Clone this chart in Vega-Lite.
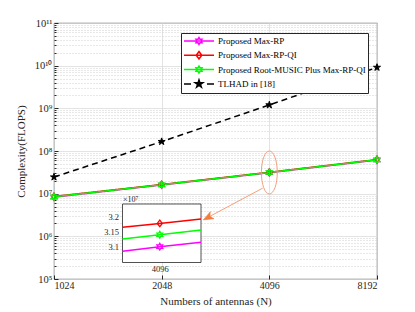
{
  "$schema": "https://vega.github.io/schema/vega-lite/v6.json",
  "width": 323,
  "height": 256,
  "autosize": {"type": "none"},
  "padding": {"left": 54, "top": 23, "right": 38, "bottom": 33},
  "background": "white",
  "datasets": {
    "main": [
      {"N": 1024, "value": 8300000, "series": "Proposed Max-RP"},
      {"N": 2048, "value": 16000000, "series": "Proposed Max-RP"},
      {"N": 4096, "value": 30990000, "series": "Proposed Max-RP"},
      {"N": 8192, "value": 61500000, "series": "Proposed Max-RP"},
      {"N": 1024, "value": 8600000, "series": "Proposed Max-RP-QI"},
      {"N": 2048, "value": 16400000, "series": "Proposed Max-RP-QI"},
      {"N": 4096, "value": 31770000, "series": "Proposed Max-RP-QI"},
      {"N": 8192, "value": 63000000, "series": "Proposed Max-RP-QI"},
      {"N": 1024, "value": 8450000, "series": "Proposed Root-MUSIC Plus Max-RP-QI"},
      {"N": 2048, "value": 16200000, "series": "Proposed Root-MUSIC Plus Max-RP-QI"},
      {"N": 4096, "value": 31390000, "series": "Proposed Root-MUSIC Plus Max-RP-QI"},
      {"N": 8192, "value": 62200000, "series": "Proposed Root-MUSIC Plus Max-RP-QI"},
      {"N": 1024, "value": 24500000, "series": "TLHAD in [18]"},
      {"N": 2048, "value": 166000000, "series": "TLHAD in [18]"},
      {"N": 4096, "value": 1200000000, "series": "TLHAD in [18]"},
      {"N": 8192, "value": 9100000000, "series": "TLHAD in [18]"}
    ],
    "inset": [
      {"N": 4077, "value": 30840000, "series": "Proposed Max-RP"},
      {"N": 4096, "value": 30990000, "series": "Proposed Max-RP"},
      {"N": 4117, "value": 31140000, "series": "Proposed Max-RP"},
      {"N": 4077, "value": 31640000, "series": "Proposed Max-RP-QI"},
      {"N": 4096, "value": 31770000, "series": "Proposed Max-RP-QI"},
      {"N": 4117, "value": 31920000, "series": "Proposed Max-RP-QI"},
      {"N": 4077, "value": 31250000, "series": "Proposed Root-MUSIC Plus Max-RP-QI"},
      {"N": 4096, "value": 31390000, "series": "Proposed Root-MUSIC Plus Max-RP-QI"},
      {"N": 4117, "value": 31550000, "series": "Proposed Root-MUSIC Plus Max-RP-QI"}
    ],
    "one": [{}]
  },
  "layer": [
    {
      "layer": [
        {
          "data": {"name": "main"},
          "encoding": {
            "x": {
              "field": "N", "type": "quantitative",
              "scale": {"type": "log", "base": 2, "domain": [1024, 8192], "nice": false},
              "axis": {
                "values": [1024, 2048, 4096, 8192], "format": "d",
                "title": "Numbers of antennas (N)", "titlePadding": 5,
                "grid": true, "gridColor": "#dcdcdc", "gridWidth": 0.8,
                "tickSize": -4, "labelPadding": 5, "domain": false
              }
            },
            "y": {
              "field": "value", "type": "quantitative",
              "scale": {"type": "log", "domain": [100000, 100000000000], "nice": false},
              "axis": {
                "values": [100000,200000,300000,400000,500000,600000,700000,800000,900000,
                  1000000,2000000,3000000,4000000,5000000,6000000,7000000,8000000,9000000,
                  10000000,20000000,30000000,40000000,50000000,60000000,70000000,80000000,90000000,
                  100000000,200000000,300000000,400000000,500000000,600000000,700000000,800000000,900000000,
                  1000000000,2000000000,3000000000,4000000000,5000000000,6000000000,7000000000,8000000000,9000000000,
                  10000000000,20000000000,30000000000,40000000000,50000000000,60000000000,70000000000,80000000000,90000000000,
                  100000000000],
                "labelExpr": "abs(log(datum.value)/LN10 - round(log(datum.value)/LN10)) < 0.000001 ? '10' + ['⁵','⁶','⁷','⁸','⁹','¹⁰','¹¹'][round(log(datum.value)/LN10)-5] : ''",
                "title": "Complexity(FLOPS)", "titlePadding": 8,
                "grid": true,
                "gridColor": {"condition": {"test": "abs(log(datum.value)/LN10 - round(log(datum.value)/LN10)) < 0.000001", "value": "#dcdcdc"}, "value": "#c4c4c4"},
                "gridDash": {"condition": {"test": "abs(log(datum.value)/LN10 - round(log(datum.value)/LN10)) < 0.000001", "value": []}, "value": [1, 2]},
                "gridWidth": 0.8,
                "tickSize": {"condition": {"test": "abs(log(datum.value)/LN10 - round(log(datum.value)/LN10)) < 0.000001", "value": -4}, "value": -2},
                "labelPadding": 6, "labelFontSize": 10.5, "domain": false
              }
            }
          },
          "layer": [
            {
              "mark": {"type": "line", "strokeWidth": 1.5},
              "encoding": {
                "color": {
                  "field": "series", "type": "nominal",
                  "scale": {
                    "domain": ["Proposed Max-RP", "Proposed Max-RP-QI", "Proposed Root-MUSIC Plus Max-RP-QI", "TLHAD in [18]"],
                    "range": ["#ff00ff", "#ff0000", "#00ff00", "#000000"]
                  },
                  "legend": {
                    "title": null, "orient": "top-right", "offset": 9.5,
                    "padding": 2, "strokeColor": "#262626", "fillColor": "white",
                    "labelFont": "Liberation Serif", "labelFontSize": 9, "labelColor": "black", "labelLimit": 0,
                    "symbolSize": 100, "symbolStrokeWidth": 1.5, "labelOffset": 23, "rowPadding": 0.3,
                    "encode": {
                      "symbols": {
                        "update": {
                          "shape": {"signal": "datum.value === 'Proposed Max-RP' ? 'M-1,0H5M2,-0.7L2.202,-0.35L2.606,-0.35L2.404,0L2.606,0.35L2.202,0.35L2,0.7L1.798,0.35L1.394,0.35L1.596,0L1.394,-0.35L1.798,-0.35Z' : datum.value === 'Proposed Max-RP-QI' ? 'M-1,0H5M2,-0.75L2.55,0L2,0.75L1.45,0Z' : datum.value === 'Proposed Root-MUSIC Plus Max-RP-QI' ? 'M-1,0H5M2,-0.7L2.202,-0.35L2.606,-0.35L2.404,0L2.606,0.35L2.202,0.35L2,0.7L1.798,0.35L1.394,0.35L1.596,0L1.394,-0.35L1.798,-0.35Z' : 'M-1,0H0.4M3.6,0H5M2,-0.8L2.18,-0.247L2.761,-0.247L2.29,0.094L2.47,0.647L2,0.306L1.53,0.647L1.71,0.094L1.239,-0.247L1.82,-0.247Z'"},
                          "fill": {"signal": "datum.value === 'TLHAD in [18]' ? 'black' : 'transparent'"},
                          "strokeDash": {"value": []}
                        }
                      }
                    }
                  }
                },
                "strokeDash": {
                  "condition": {"test": "datum.series === 'TLHAD in [18]'", "value": [6, 4]},
                  "value": [1, 0]
                }
              }
            },
            {
              "transform": [{"filter": "datum.series === 'Proposed Max-RP'"}],
              "mark": {"type": "point", "shape": "M0,-1L0.289,-0.5L0.866,-0.5L0.577,0L0.866,0.5L0.289,0.5L0,1L-0.289,0.5L-0.866,0.5L-0.577,0L-0.866,-0.5L-0.289,-0.5Z", "size": 45, "stroke": "#ff00ff", "strokeWidth": 1.3, "fill": "transparent", "opacity": 1}
            },
            {
              "transform": [{"filter": "datum.series === 'Proposed Max-RP-QI'"}],
              "mark": {"type": "point", "shape": "M0,-1L0.75,0L0,1L-0.75,0Z", "size": 45, "stroke": "#ff0000", "strokeWidth": 1.3, "fill": "transparent", "opacity": 1}
            },
            {
              "transform": [{"filter": "datum.series === 'Proposed Root-MUSIC Plus Max-RP-QI'"}],
              "mark": {"type": "point", "shape": "M0,-1L0.289,-0.5L0.866,-0.5L0.577,0L0.866,0.5L0.289,0.5L0,1L-0.289,0.5L-0.866,0.5L-0.577,0L-0.866,-0.5L-0.289,-0.5Z", "size": 45, "stroke": "#00ff00", "strokeWidth": 1.3, "fill": "transparent", "opacity": 1}
            },
            {
              "transform": [{"filter": "datum.series === 'TLHAD in [18]'"}],
              "mark": {"type": "point", "shape": "M0,-1L0.225,-0.309L0.951,-0.309L0.363,0.118L0.588,0.809L0,0.382L-0.588,0.809L-0.363,0.118L-0.951,-0.309L-0.225,-0.309Z", "size": 55, "stroke": "#000000", "strokeWidth": 1, "fill": "#000000", "opacity": 1}
            }
          ]
        },
        {
          "data": {"name": "one"},
          "mark": {"type": "point", "shape": "M0,-1A0.37,1,0,1,1,0,1A0.37,1,0,1,1,0,-1Z", "size": 1849, "stroke": "#f4a07a", "strokeWidth": 1, "fill": "transparent", "opacity": 1},
          "encoding": {
            "x": {"datum": 4096, "type": "quantitative", "scale": {"type": "log", "base": 2}},
            "y": {"datum": 31390000, "type": "quantitative", "scale": {"type": "log"}}
          }
        },
        {
          "data": {"name": "one"},
          "mark": {"type": "rule", "stroke": "#f4a07a", "strokeWidth": 1},
          "encoding": {
            "x": {"datum": 3923, "type": "quantitative", "scale": {"type": "log", "base": 2}},
            "x2": {"datum": 2740},
            "y": {"datum": 13460000, "type": "quantitative", "scale": {"type": "log"}},
            "y2": {"datum": 2700000}
          }
        },
        {
          "data": {"name": "one"},
          "mark": {"type": "point", "shape": "M0,0L0.8,2L0,1.5L-0.8,2Z", "size": 100, "angle": 242, "fill": "#f47c3c", "stroke": "#f47c3c", "strokeWidth": 0.5, "filled": true, "opacity": 1},
          "encoding": {
            "x": {"datum": 2678, "type": "quantitative", "scale": {"type": "log", "base": 2}},
            "y": {"datum": 2430000, "type": "quantitative", "scale": {"type": "log"}}
          }
        }
      ]
    },
    {
      "layer": [
        {
          "data": {"name": "one"},
          "mark": {"type": "rect", "fill": "white", "stroke": "#262626", "strokeWidth": 0.8},
          "encoding": {
            "x": {
              "datum": 4077, "type": "quantitative",
              "scale": {"domain": [4077, 4117], "range": [68.5, 147], "nice": false, "zero": false},
              "axis": {"orient": "bottom", "offset": -16.5, "values": [4096], "format": "d", "title": null, "domain": false, "ticks": false, "grid": false, "labelFontSize": 8.5, "labelPadding": 2}
            },
            "x2": {"datum": 4117},
            "y": {
              "datum": 30460000, "type": "quantitative",
              "scale": {"domain": [30460000, 32420000], "range": [239.5, 181], "nice": false, "zero": false},
              "axis": {"orient": "left", "offset": -68.5, "values": [31000000, 31500000, 32000000], "labelExpr": "format(datum.value/10000000, '.3~f')", "title": "×10⁷", "titleAngle": 0, "titleAlign": "left", "titleBaseline": "alphabetic", "titleX": 0, "titleY": 178, "titleFontSize": 8, "domain": false, "ticks": false, "grid": false, "labelFontSize": 8.5, "labelPadding": 4}
            },
            "y2": {"datum": 32420000}
          }
        },
        {
          "data": {"name": "inset"},
          "encoding": {
            "x": {
              "field": "N", "type": "quantitative",
              "scale": {"domain": [4077, 4117], "range": [68.5, 147], "nice": false, "zero": false},
              "axis": {"orient": "bottom", "offset": -16.5, "values": [4096], "format": "d", "title": null, "domain": false, "ticks": false, "grid": false, "labelFontSize": 8.5, "labelPadding": 2}
            },
            "y": {
              "field": "value", "type": "quantitative",
              "scale": {"domain": [30460000, 32420000], "range": [239.5, 181], "nice": false, "zero": false},
              "axis": {"orient": "left", "offset": -68.5, "values": [31000000, 31500000, 32000000], "labelExpr": "format(datum.value/10000000, '.3~f')", "title": "×10⁷", "titleAngle": 0, "titleAlign": "left", "titleBaseline": "alphabetic", "titleX": 0, "titleY": 178, "titleFontSize": 8, "domain": false, "ticks": false, "grid": false, "labelFontSize": 8.5, "labelPadding": 4}
            }
          },
          "layer": [
            {
              "mark": {"type": "line", "strokeWidth": 1.5},
              "encoding": {
                "color": {
                  "field": "series", "type": "nominal",
                  "scale": {
                    "domain": ["Proposed Max-RP", "Proposed Max-RP-QI", "Proposed Root-MUSIC Plus Max-RP-QI"],
                    "range": ["#ff00ff", "#ff0000", "#00ff00"]
                  },
                  "legend": null
                }
              }
            },
            {
              "transform": [{"filter": "datum.N === 4096 && datum.series === 'Proposed Max-RP'"}],
              "mark": {"type": "point", "shape": "M0,-1L0.289,-0.5L0.866,-0.5L0.577,0L0.866,0.5L0.289,0.5L0,1L-0.289,0.5L-0.866,0.5L-0.577,0L-0.866,-0.5L-0.289,-0.5Z", "size": 45, "stroke": "#ff00ff", "strokeWidth": 1.3, "fill": "transparent", "opacity": 1}
            },
            {
              "transform": [{"filter": "datum.N === 4096 && datum.series === 'Proposed Max-RP-QI'"}],
              "mark": {"type": "point", "shape": "M0,-1L0.75,0L0,1L-0.75,0Z", "size": 45, "stroke": "#ff0000", "strokeWidth": 1.3, "fill": "transparent", "opacity": 1}
            },
            {
              "transform": [{"filter": "datum.N === 4096 && datum.series === 'Proposed Root-MUSIC Plus Max-RP-QI'"}],
              "mark": {"type": "point", "shape": "M0,-1L0.289,-0.5L0.866,-0.5L0.577,0L0.866,0.5L0.289,0.5L0,1L-0.289,0.5L-0.866,0.5L-0.577,0L-0.866,-0.5L-0.289,-0.5Z", "size": 45, "stroke": "#00ff00", "strokeWidth": 1.3, "fill": "transparent", "opacity": 1}
            }
          ]
        }
      ]
    }
  ],
  "resolve": {
    "scale": {"x": "independent", "y": "independent", "color": "independent"},
    "axis": {"x": "independent", "y": "independent"},
    "legend": {"color": "independent"}
  },
  "config": {
    "font": "Liberation Serif",
    "view": {"stroke": "#262626", "strokeWidth": 0.8},
    "axis": {
      "labelFont": "Liberation Serif", "titleFont": "Liberation Serif",
      "labelColor": "#262626", "titleColor": "#262626",
      "tickColor": "#262626", "domainColor": "#262626",
      "labelFontSize": 10, "titleFontSize": 11, "titleFontWeight": "normal"
    }
  }
}
